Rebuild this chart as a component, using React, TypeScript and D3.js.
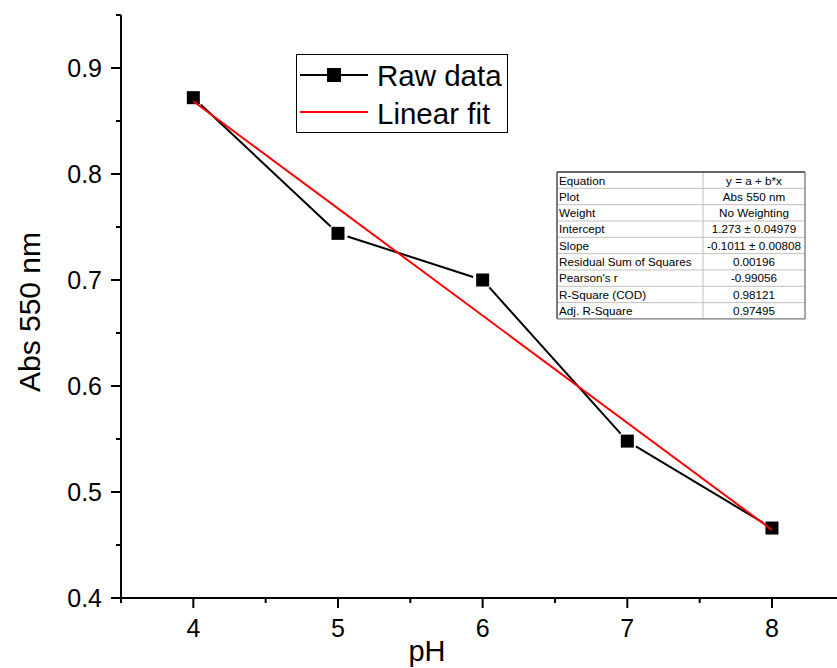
import React from "react";
import * as d3 from "d3";

const pH = [4, 5, 6, 7, 8];
const absorbance = [0.872, 0.744, 0.7, 0.548, 0.466];
const fitIntercept = 1.273;
const fitSlope = -0.1011;
const xTicks = [4, 5, 6, 7, 8];
const xMinorTicks = [3.5, 4.5, 5.5, 6.5, 7.5, 8.5];
const yTicks = [0.4, 0.5, 0.6, 0.7, 0.8, 0.9];
const yMinorTicks = [0.45, 0.55, 0.65, 0.75, 0.85, 0.95];
const tableLabels = [
  "Equation",
  "Plot",
  "Weight",
  "Intercept",
  "Slope",
  "Residual Sum of Squares",
  "Pearson's r",
  "R-Square (COD)",
  "Adj. R-Square",
];
const tableValues = [
  "y = a + b*x",
  "Abs 550 nm",
  "No Weighting",
  "1.273 ± 0.04979",
  "-0.1011 ± 0.00808",
  "0.00196",
  "-0.99056",
  "0.98121",
  "0.97495",
];

const W = 837;
const H = 668;
const FONT = "Arial, 'Liberation Sans', sans-serif";

export default function App() {
  const x = d3.scaleLinear().domain([3.5, 8.5]).range([121, 844.3]);
  const y = d3.scaleLinear().domain([0.4, 0.95]).range([598, 15]);

  const pts = pH.map((p, i) => [x(p), y(absorbance[i])] as [number, number]);
  const gap = 10;
  const segs = pts.slice(1).map((b, i) => {
    const a = pts[i];
    const dx = b[0] - a[0];
    const dy = b[1] - a[1];
    const len = Math.hypot(dx, dy);
    const ux = dx / len;
    const uy = dy / len;
    return [a[0] + ux * gap, a[1] + uy * gap, b[0] - ux * gap, b[1] - uy * gap];
  });

  const fitX = [pH[0], pH[pH.length - 1]];
  const fitLine = d3
    .line<number>()
    .x((d) => x(d))
    .y((d) => y(fitIntercept + fitSlope * d));

  const ms = 13;
  const axisY = y(0.4);
  const axisX = x(3.5);

  const tX = 557;
  const tY = 172;
  const tW = 248;
  const tColDiv = 703;
  const rowH = 16.33;

  return (
    <svg width={W} height={H} style={{ position: "absolute", left: 0, top: 0 }} fontFamily={FONT}>
      <rect width={W} height={H} fill="#fff" />
      {segs.map((s, i) => (
        <line key={i} x1={s[0]} y1={s[1]} x2={s[2]} y2={s[3]} stroke="#000" strokeWidth={2} />
      ))}
      {pts.map((p, i) => (
        <rect key={i} x={p[0] - ms / 2} y={p[1] - ms / 2} width={ms} height={ms} fill="#000" />
      ))}
      <path d={fitLine(fitX) || ""} stroke="#ff0000" strokeWidth={2} fill="none" />

      <line x1={axisX} y1={y(0.95)} x2={axisX} y2={axisY} stroke="#000" strokeWidth={2} />
      <line x1={axisX - 1} y1={axisY} x2={W} y2={axisY} stroke="#000" strokeWidth={2} />
      {yTicks.map((t) => (
        <g key={t}>
          <line x1={axisX - 10} x2={axisX} y1={y(t)} y2={y(t)} stroke="#000" strokeWidth={2} />
          <text x={axisX - 19} y={y(t) + 9} fontSize={25} textAnchor="end" fill="#000">
            {d3.format(".1f")(t)}
          </text>
        </g>
      ))}
      {yMinorTicks.map((t) => (
        <line key={t} x1={axisX - 5} x2={axisX} y1={y(t)} y2={y(t)} stroke="#000" strokeWidth={2} />
      ))}
      {xTicks.map((t) => (
        <g key={t}>
          <line x1={x(t)} x2={x(t)} y1={axisY} y2={axisY + 10} stroke="#000" strokeWidth={2} />
          <text x={x(t)} y={637} fontSize={25} textAnchor="middle" fill="#000">
            {t}
          </text>
        </g>
      ))}
      {xMinorTicks.map((t) => (
        <line key={t} x1={x(t)} x2={x(t)} y1={axisY} y2={axisY + 5} stroke="#000" strokeWidth={2} />
      ))}
      <text x={427} y={661} fontSize={29} textAnchor="middle" fill="#000">
        pH
      </text>
      <text transform={`translate(40,312) rotate(-90)`} fontSize={30} textAnchor="middle" fill="#000">
        Abs 550 nm
      </text>

      <rect x={296.5} y={54.5} width={211} height={78} fill="#fff" stroke="#000" strokeWidth={1} />
      <line x1={300} x2={368} y1={75} y2={75} stroke="#000" strokeWidth={2} />
      <rect x={334 - 7} y={75 - 7} width={14} height={14} fill="#000" />
      <text x={377} y={86} fontSize={29.5} fill="#000">
        Raw data
      </text>
      <line x1={300} x2={368} y1={112} y2={112} stroke="#ff0000" strokeWidth={2} />
      <text x={377} y={124} fontSize={29.5} fill="#000">
        Linear fit
      </text>

      <rect x={tX} y={tY} width={tW} height={rowH * 9} fill="#fff" />
      {tableLabels.map((lab, i) => (
        <g key={lab}>
          {i > 0 && (
            <line x1={tX} x2={tX + tW} y1={tY + i * rowH} y2={tY + i * rowH} stroke="#c0c0c0" strokeWidth={1} />
          )}
          <text x={tX + 2} y={tY + i * rowH + 12.5} fontSize={11.7} fill="#000">
            {lab}
          </text>
          <text x={(tColDiv + tX + tW) / 2} y={tY + i * rowH + 12.5} fontSize={11.7} textAnchor="middle" fill="#000">
            {tableValues[i]}
          </text>
        </g>
      ))}
      <line x1={tColDiv} x2={tColDiv} y1={tY} y2={tY + rowH * 9} stroke="#c0c0c0" strokeWidth={1} />
      <line x1={tX} x2={tX + tW} y1={tY} y2={tY} stroke="#333" strokeWidth={1.3} />
      <line x1={tX} x2={tX} y1={tY} y2={tY + rowH * 9} stroke="#333" strokeWidth={1.3} />
      <line x1={tX + tW} x2={tX + tW} y1={tY} y2={tY + rowH * 9} stroke="#777" strokeWidth={1.3} />
      <line x1={tX} x2={tX + tW} y1={tY + rowH * 9} y2={tY + rowH * 9} stroke="#777" strokeWidth={1.3} />
    </svg>
  );
}
